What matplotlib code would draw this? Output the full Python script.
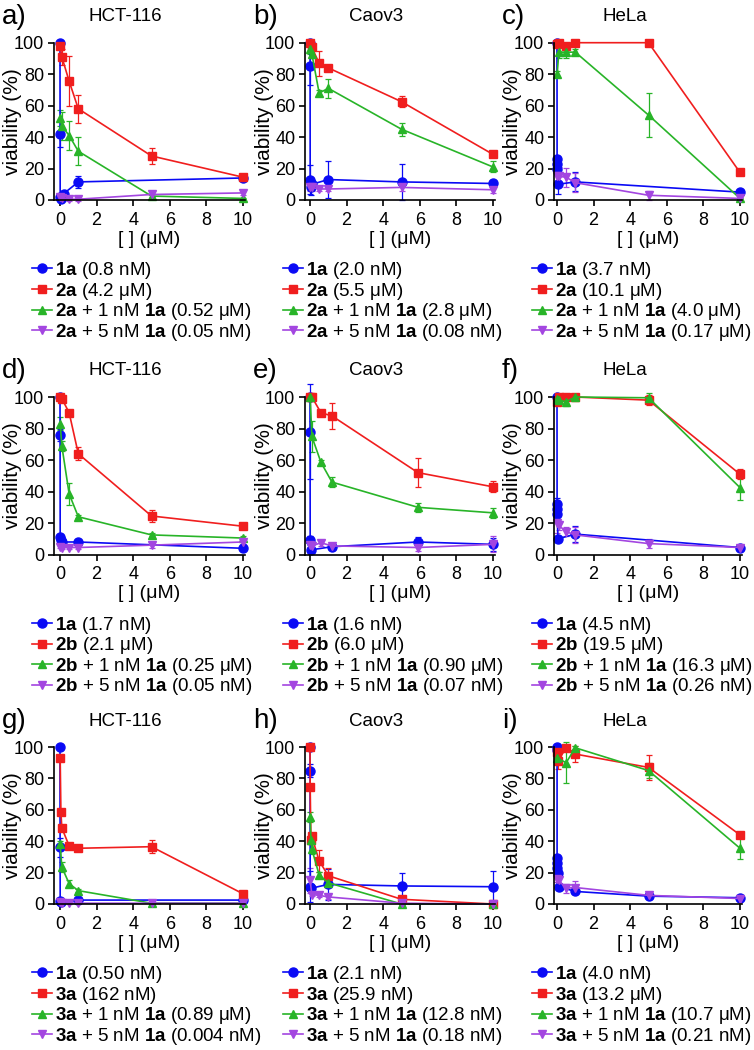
import matplotlib
matplotlib.use('Agg')
import matplotlib.pyplot as plt

plt.rcParams['font.family'] = 'Liberation Sans'
plt.rcParams['mathtext.fontset'] = 'custom'
plt.rcParams['mathtext.rm'] = 'Liberation Sans'
plt.rcParams['mathtext.bf'] = 'Liberation Sans:bold'

# ---- data (viability %) ----
# a) HCT-116, 2a
a_1a_x = [0, 0.005, 0.01, 0.05, 0.2, 1, 10]
a_1a_y = [100, 42, 2, 0.5, 4, 11.5, 14]
a_1a_e = [0, 8, 1, 0, 2, 4, 1]
a_cpd_x = [0.01, 0.1, 0.5, 1, 5, 10]
a_red_y = [98, 91, 75.5, 58, 28, 14.5]
a_red_e = [2, 5, 16, 9, 5, 1]
a_green_y = [52, 47, 41, 31, 2.5, 1]
a_green_e = [5, 9, 9, 9, 1, 0.5]
a_purple_y = [2, 1, 0.5, 0.5, 3.5, 4.5]
a_purple_e = [1, 1, 1, 1, 1.5, 1.5]

# b) Caov3, 2a
b_1a_x = [0, 0.005, 0.01, 0.05, 0.1, 1, 5, 10]
b_1a_y = [100, 85, 13, 8, 10, 13, 11.5, 10.5]
b_1a_e = [0, 12, 9, 5, 3, 12, 11.5, 2]
b_cpd_x = [0.01, 0.1, 0.5, 1, 5, 10]
b_red_y = [100, 97, 87, 84, 62.5, 29]
b_red_e = [0, 2, 8, 2, 3.5, 1.5]
b_green_y = [96, 93, 68, 71, 45, 21]
b_green_e = [3, 3, 2, 6, 4, 3.5]
b_purple_y = [8, 8, 7, 7, 8, 6.5]
b_purple_e = [2, 2, 1.5, 1.5, 2, 2]

# c) HeLa, 2a
c_1a_x = [0, 0.005, 0.01, 0.02, 0.05, 1, 10]
c_1a_y = [100, 26, 23, 20, 10, 11.5, 5]
c_1a_e = [0, 2, 2, 2, 6, 6, 1]
c_cpd_x = [0.01, 0.1, 0.5, 1, 5, 10]
c_red_y = [99, 100, 98, 100, 100, 17.5]
c_red_e = [1, 1, 2, 1, 1, 1]
c_green_y = [80, 94, 94, 94, 54, 1]
c_green_e = [2, 4, 4, 2, 14, 0.5]
c_purple_y = [15, 15, 14.5, 11, 3, 1]
c_purple_e = [5, 6, 6, 6, 3, 1]

# d) HCT-116, 2b
d_1a_x = [0, 0.005, 0.01, 0.05, 0.1, 1, 10]
d_1a_y = [100, 76, 11, 9, 8, 8, 4]
d_1a_e = [0, 4, 2, 2, 1, 1, 1]
d_cpd_x = [0.01, 0.1, 0.5, 1, 5, 10]
d_red_y = [100, 99, 90, 64, 24.5, 18]
d_red_e = [0, 0, 1, 4, 4, 1]
d_green_y = [83, 69, 38.5, 24, 12.5, 10.5]
d_green_e = [4, 3, 7, 1, 1, 1]
d_purple_y = [5, 4.5, 4.5, 4.5, 6, 8]
d_purple_e = [1, 1, 1, 1, 1.5, 1.5]

# e) Caov3, 2b
e_1a_x = [0, 0.005, 0.01, 0.05, 1.2, 5.9, 10]
e_1a_y = [100, 78, 9, 3, 5, 8, 6.5]
e_1a_e = [0, 30, 3, 1, 1.5, 3, 4]
e_cpd_x = [0.01, 0.1, 0.6, 1.2, 5.9, 10]
e_red_y = [100, 100, 90, 88, 52, 43]
e_red_e = [0, 0, 1.5, 8, 9, 3.5]
e_green_y = [100, 75, 58.5, 46, 30, 26.5]
e_green_e = [2, 10, 1.5, 3, 3, 3]
e_purple_y = [6, 5.5, 7.5, 5.5, 4.5, 6.5]
e_purple_e = [1.5, 1.5, 2, 1.5, 2, 5]

# f) HeLa, 2b
f_1a_x = [0, 0.005, 0.01, 0.02, 0.05, 1, 10]
f_1a_y = [100, 32, 29, 26, 10, 13, 4.5]
f_1a_e = [0, 4, 3, 2, 2, 5, 1]
f_cpd_x = [0.01, 0.1, 0.5, 1, 5, 10]
f_red_y = [97, 100, 100, 100, 98, 51]
f_red_e = [1, 1, 1, 1, 3, 3]
f_green_y = [99, 98, 97, 100, 99.5, 42.5]
f_green_e = [1, 2, 3, 1, 3, 8]
f_purple_y = [20, 18.5, 14.5, 12.5, 7, 4.5]
f_purple_e = [6, 3, 3, 5, 3, 1]

# g) HCT-116, 3a
g_1a_x = [0, 0.005, 0.01, 0.05, 1, 10]
g_1a_y = [100, 36, 2, 1, 2.5, 2.5]
g_1a_e = [0, 6, 1, 1, 1, 1]
g_red_x = [0.01, 0.05, 0.1, 0.5, 1, 5, 10]
g_red_y = [93, 58.5, 48.5, 37, 35.5, 36.5, 6.5]
g_red_e = [2, 2, 2, 2, 2, 4, 1]
g_cpd_x = [0.01, 0.1, 0.5, 1, 5, 10]
g_green_y = [38, 23.5, 13, 8.5, 0.5, 0.5]
g_green_e = [2, 3, 2, 1, 0.5, 0.5]
g_purple_y = [1, 0.5, 0.5, 0.5, 0.5, 0.5]
g_purple_e = [0.5, 0.5, 0.5, 0.5, 0.5, 0.5]

# h) Caov3, 3a
h_1a_x = [0, 0.005, 0.01, 0.05, 1, 5, 10]
h_1a_y = [100, 85, 11, 10, 12.5, 11.5, 11]
h_1a_e = [0, 4, 10, 3, 10, 8.5, 10]
h_red_x = [0, 0.01, 0.05, 0.1, 0.5, 1, 5, 10]
h_red_y = [100, 74.5, 41, 43, 27.5, 18, 3, 0]
h_red_e = [0, 2, 2, 2, 7, 5, 1, 1]
h_green_x = [0.01, 0.05, 0.1, 0.5, 1, 5, 10]
h_green_y = [55.5, 41, 35, 18.5, 13.5, 0, 0]
h_green_e = [3, 3, 3, 2, 2, 0.5, 0.5]
h_purple_x = [0.01, 0.1, 0.5, 1, 5, 10]
h_purple_y = [15, 6, 5.5, 4.5, 0.5, 0]
h_purple_e = [8, 1, 1, 1, 0.5, 0.5]

# i) HeLa, 3a
i_1a_x = [0, 0.003, 0.005, 0.01, 0.02, 0.05, 0.1, 1, 5, 10]
i_1a_y = [100, 98, 29, 26, 23, 20, 11, 8, 5, 4]
i_1a_e = [0, 1, 2, 2, 2, 2, 2, 1, 1, 1]
i_red_x = [0.01, 0.05, 0.5, 1, 5, 10]
i_red_y = [96.5, 91, 99.5, 95.5, 87, 44]
i_red_e = [3, 5, 1, 5, 8, 1.5]
i_green_x = [0.01, 0.5, 1, 5, 10]
i_green_y = [93, 90, 99.5, 85, 35.5]
i_green_e = [4, 13, 1, 5, 7]
i_purple_x = [0.01, 0.1, 0.5, 1, 5, 10]
i_purple_y = [16, 15, 10, 10.5, 5.5, 3.5]
i_purple_e = [2, 3, 3, 4, 2, 1]

letters = ['a)', 'b)', 'c)', 'd)', 'e)', 'f)', 'g)', 'h)', 'i)']
cells = ['HCT-116', 'Caov3', 'HeLa']

B = r'$\mathbf{%s}$'
def labels(cpd, v1, v2, v3, v4):
    return [B % '1a' + ' (%s)' % v1,
            B % cpd + ' (%s)' % v2,
            B % cpd + ' + 1 nM ' + B % '1a' + ' (%s)' % v3,
            B % cpd + ' + 5 nM ' + B % '1a' + ' (%s)' % v4]

legend_text = [
    labels('2a', '0.8 nM', '4.2 μM', '0.52 μM', '0.05 nM'),
    labels('2a', '2.0 nM', '5.5 μM', '2.8 μM', '0.08 nM'),
    labels('2a', '3.7 nM', '10.1 μM', '4.0 μM', '0.17 μM'),
    labels('2b', '1.7 nM', '2.1 μM', '0.25 μM', '0.05 nM'),
    labels('2b', '1.6 nM', '6.0 μM', '0.90 μM', '0.07 nM'),
    labels('2b', '4.5 nM', '19.5 μM', '16.3 μM', '0.26 nM'),
    labels('3a', '0.50 nM', '162 nM', '0.89 μM', '0.004 nM'),
    labels('3a', '2.1 nM', '25.9 nM', '12.8 nM', '0.18 nM'),
    labels('3a', '4.0 nM', '13.2 μM', '10.7 μM', '0.21 nM'),
]

panels = [
    [(a_1a_x, a_1a_y, a_1a_e), (a_cpd_x, a_red_y, a_red_e), (a_cpd_x, a_green_y, a_green_e), (a_cpd_x, a_purple_y, a_purple_e)],
    [(b_1a_x, b_1a_y, b_1a_e), (b_cpd_x, b_red_y, b_red_e), (b_cpd_x, b_green_y, b_green_e), (b_cpd_x, b_purple_y, b_purple_e)],
    [(c_1a_x, c_1a_y, c_1a_e), (c_cpd_x, c_red_y, c_red_e), (c_cpd_x, c_green_y, c_green_e), (c_cpd_x, c_purple_y, c_purple_e)],
    [(d_1a_x, d_1a_y, d_1a_e), (d_cpd_x, d_red_y, d_red_e), (d_cpd_x, d_green_y, d_green_e), (d_cpd_x, d_purple_y, d_purple_e)],
    [(e_1a_x, e_1a_y, e_1a_e), (e_cpd_x, e_red_y, e_red_e), (e_cpd_x, e_green_y, e_green_e), (e_cpd_x, e_purple_y, e_purple_e)],
    [(f_1a_x, f_1a_y, f_1a_e), (f_cpd_x, f_red_y, f_red_e), (f_cpd_x, f_green_y, f_green_e), (f_cpd_x, f_purple_y, f_purple_e)],
    [(g_1a_x, g_1a_y, g_1a_e), (g_red_x, g_red_y, g_red_e), (g_cpd_x, g_green_y, g_green_e), (g_cpd_x, g_purple_y, g_purple_e)],
    [(h_1a_x, h_1a_y, h_1a_e), (h_red_x, h_red_y, h_red_e), (h_green_x, h_green_y, h_green_e), (h_purple_x, h_purple_y, h_purple_e)],
    [(i_1a_x, i_1a_y, i_1a_e), (i_red_x, i_red_y, i_red_e), (i_green_x, i_green_y, i_green_e), (i_purple_x, i_purple_y, i_purple_e)],
]

colors = ['#0a0af5', '#f01e1e', '#28b428', '#a346e0']
markers = ['o', 's', '^', 'v']
msizes = [6.5, 6, 6, 6]

# ---- layout in pixels ----
W, H = 754, 1050
fig = plt.figure(figsize=(W / 100, H / 100), dpi=100)

col_spine = [54, 305, 554]
col_zero = [60, 310, 557]
xpx = 18.3
row_zero = [200, 554.6, 904]
row_top = [42.7, 397, 747]
XMAX = 10.1
YMIN, YMAX = -2.5, 101.5

for k in range(9):
    row, col = divmod(k, 3)
    xmin = -(col_zero[col] - col_spine[col]) / xpx
    ypx = (row_zero[row] - row_top[row]) / 100
    left = col_spine[col]
    right = col_zero[col] + XMAX * xpx
    top = row_top[row] - (YMAX - 100) * ypx
    bottom = row_zero[row] - YMIN * ypx
    ax = fig.add_axes([left / W, 1 - bottom / H, (right - left) / W, (bottom - top) / H])

    handles = []
    for (x, y, e), c, m, ms in zip(panels[k], colors, markers, msizes):
        cont = ax.errorbar(x, y, yerr=e, color=c, marker=m, ms=ms, lw=1.2,
                           elinewidth=0.9, capsize=2.4, capthick=0.9, clip_on=False)
        handles.append(cont[0])

    ax.set_xlim(xmin, XMAX)
    ax.set_ylim(YMIN, YMAX)
    ax.set_xticks([0, 2, 4, 6, 8, 10])
    ax.set_yticks([0, 20, 40, 60, 80, 100])
    ax.spines['top'].set_visible(False)
    ax.spines['right'].set_visible(False)
    ax.spines['bottom'].set_position(('data', 0))
    ax.spines['left'].set_bounds(0, 100)
    for s in ('left', 'bottom'):
        ax.spines[s].set_linewidth(1.2)
    ax.tick_params(direction='out', length=4.5, width=1.2, labelsize=13, pad=2.5)
    ax.tick_params(axis='x', pad=4)
    ax.set_xlabel('[ ] (μM)', fontsize=14, labelpad=1.5)

    fig.text((col_spine[col] - 41) / W, 1 - (row_top[row] + row_zero[row]) / 2 / H,
             'viability (%)', rotation=90, fontsize=15, ha='center', va='center')
    fig.text((col_spine[col] - 52) / W, 1 - (row_top[row] - 26) / H, letters[k],
             fontsize=20, ha='left', va='center')
    fig.text((col_spine[col] + 71) / W, 1 - (row_top[row] - 26) / H, cells[col],
             fontsize=13.5, ha='center', va='center')

    ax.legend(handles, legend_text[k], loc='upper left', frameon=False,
              bbox_to_anchor=((col_spine[col] - 22) / W, 1 - (row_zero[row] + 60) / H),
              bbox_transform=fig.transFigure, fontsize=13.5, borderpad=0,
              borderaxespad=0, handlelength=1.05, handletextpad=0.2,
              labelspacing=-0.02, numpoints=1)

fig.savefig('out.png', dpi=100)
